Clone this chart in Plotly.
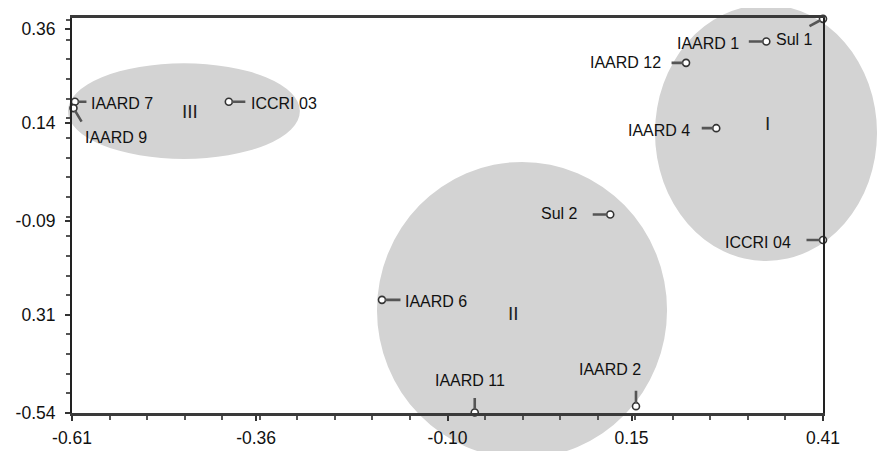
import plotly.graph_objects as go

# ---------------- data ----------------
names = ["Sul 1", "IAARD 1", "IAARD 12", "IAARD 4", "ICCRI 04", "Sul 2",
         "IAARD 6", "IAARD 11", "IAARD 2", "ICCRI 03", "IAARD 7", "IAARD 9"]
x_vals = [0.410, 0.333, 0.224, 0.265, 0.410, 0.121,
          -0.189, -0.063, 0.156, -0.397, -0.606, -0.608]
y_vals = [0.383, 0.330, 0.280, 0.127, -0.135, -0.075,
          -0.275, -0.539, -0.524, 0.189, 0.189, 0.174]

cluster_names = ["I", "II", "III"]
cluster_cx = [0.3326, 0.0012, -0.458]
cluster_cy = [0.116, -0.299, 0.167]
cluster_rx = [0.1508, 0.197, 0.1575]
cluster_ry = [0.300, 0.347, 0.112]
cluster_label_x = [0.334, -0.010, -0.450]
cluster_label_y = [0.137, -0.308, 0.167]

x_tickvals = [-0.61, -0.36, -0.10, 0.15, 0.41]
x_ticktext = ["-0.61", "-0.36", "-0.10", "0.15", "0.41"]
y_tickvals = [-0.54, -0.31, -0.09, 0.14, 0.36]
y_ticktext = ["-0.54", "0.31", "-0.09", "0.14", "0.36"]

# ---------------- style ----------------
X_RANGE = [-0.61, 0.41]
Y_RANGE = [-0.54, 0.385]
FONT = "Liberation Sans, Arial, sans-serif"
# label placement (pixel offsets from marker: dx, dy(down), anchor)
label_place = [(-29, 21, "center"), (-25, 2, "right"), (-23, 0, "right"),
               (-24, 2, "right"), (-30, 2, "right"), (-30, -1, "right"),
               (21, 2, "left"), (-5, -32, "center"), (-26, -37, "center"),
               (20, 2, "left"), (14, 2, "left"), (10, 29, "left")]
# leader line tails (pixel offsets from marker)
leader_tail = [(-15, 8), (-19, 0), (-16, 0), (-16, 0), (-18, 0), (-19, 0),
               (20, 0), (0, -16), (0, -17), (18, 0), (13, 0), (9, 15)]

fig = go.Figure()


def to_paper_x(v):
    return (v - X_RANGE[0]) / (X_RANGE[1] - X_RANGE[0])


def to_paper_y(v):
    return (v - Y_RANGE[0]) / (Y_RANGE[1] - Y_RANGE[0])


shapes = []
for cx, cy, rx, ry in zip(cluster_cx, cluster_cy, cluster_rx, cluster_ry):
    shapes.append(dict(type="circle", xref="paper", yref="paper",
                       x0=to_paper_x(cx - rx), x1=to_paper_x(cx + rx),
                       y0=to_paper_y(cy - ry), y1=to_paper_y(cy + ry),
                       fillcolor="#d3d3d3", line=dict(width=0), layer="below"))

fig.add_trace(go.Scatter(
    x=x_vals, y=y_vals, mode="markers", text=names,
    marker=dict(symbol="circle", size=7, color="white",
                line=dict(color="#333333", width=1.6)),
    cliponaxis=False, showlegend=False, hoverinfo="text"))

annotations = []
for nm, xv, yv, (dx, dy, anc), (tx, ty) in zip(names, x_vals, y_vals,
                                               label_place, leader_tail):
    annotations.append(dict(x=xv, y=yv, xref="x", yref="y", text="",
                            showarrow=True, ax=tx, ay=ty, arrowhead=0,
                            arrowwidth=2.6, arrowcolor="#555555", standoff=3))
    annotations.append(dict(x=xv, y=yv, xref="x", yref="y", text=nm,
                            showarrow=False, xshift=dx, yshift=-dy,
                            xanchor=anc, yanchor="middle",
                            font=dict(family=FONT, size=16, color="#111111")))

for nm, lx, ly in zip(cluster_names, cluster_label_x, cluster_label_y):
    annotations.append(dict(x=lx, y=ly, xref="x", yref="y", text=nm,
                            showarrow=False,
                            font=dict(family=FONT, size=19, color="#222222")))

fig.update_layout(
    width=872, height=443,
    margin=dict(l=64, r=57, t=10, b=38),
    paper_bgcolor="white", plot_bgcolor="rgba(0,0,0,0)",
    shapes=shapes, annotations=annotations,
    font=dict(family=FONT, size=17, color="#111111"),
    xaxis=dict(range=X_RANGE, tickmode="array", tickvals=x_tickvals,
               ticktext=x_ticktext, showgrid=False, zeroline=False,
               automargin=False,
               showline=True, linecolor="#3a3a3a", linewidth=2.5, mirror=True,
               ticks="outside", ticklen=5, tickwidth=2, tickcolor="#333333",
               ticklabelstandoff=2,
               minor=dict(dtick=0.051, tick0=-0.61, ticks="outside",
                          ticklen=4, tickwidth=2, tickcolor="#555555",
                          showgrid=False),
               tickfont=dict(family=FONT, size=17.5, color="#111111")),
    yaxis=dict(range=Y_RANGE, tickmode="array", tickvals=y_tickvals,
               ticktext=y_ticktext, showgrid=False, zeroline=False,
               automargin=False,
               showline=True, linecolor="#222222", linewidth=2, mirror=True,
               ticks="outside", ticklen=5, tickwidth=2, tickcolor="#333333",
               ticklabelstandoff=6,
               minor=dict(dtick=0.046, tick0=-0.54, ticks="outside",
                          ticklen=4, tickwidth=2, tickcolor="#555555",
                          showgrid=False),
               tickfont=dict(family=FONT, size=17.5, color="#111111")),
)

fig.write_html("out.html")
